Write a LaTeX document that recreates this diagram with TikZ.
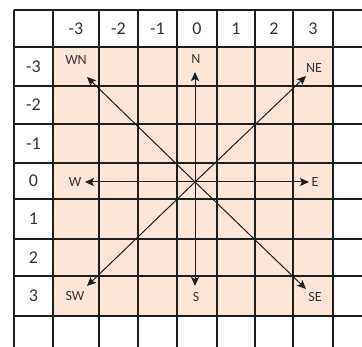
\documentclass[tikz,border=0pt]{standalone}
\usepackage{fontspec}
\setmainfont{Carlito}
\usetikzlibrary{arrows.meta,positioning}
\definecolor{cellfill}{HTML}{FCE4D6}
\definecolor{gridline}{HTML}{1E1E1E}
\definecolor{labeltext}{HTML}{333333}

\begin{document}
\begin{tikzpicture}[
  x=1pt, y=-1pt,
  grid/.style={draw=gridline, line width=1.2pt},
  head/.style={font=\fontsize{18}{20}\selectfont, text=labeltext, inner sep=0pt},
  dirlabel/.style={font=\fontsize{14}{16}\selectfont, text=labeltext, inner sep=0pt},
  arrow/.style={-{Stealth[length=9pt,width=8pt,inset=2pt]}, line width=1pt, draw=gridline}
]
\useasboundingbox (0,0) rectangle (362,347);

\fill[cellfill] (53,47) rectangle (333,316);
\foreach \x in {14,53,99,138,177,217,255,293,333}
  \draw[grid] (\x,10) -- (\x,347);
\foreach \y in {10,47,86,124,163,199,239,276,316}
  \draw[grid] (14,\y) -- (362,\y);

\foreach \x/\lab in {76/-3,118.5/-2,157.5/-1,197/0,236/1,274/2,313/3}
  \node[head] (col\lab) at (\x,28.5) {\lab};
\foreach \y/\lab in {66.5/-3,105/-2,143.5/-1,181/0,219/1,257.5/2,296/3}
  \node[head] (row\lab) at (33.5,\y) {\lab};

\coordinate (o) at (195,182);

\coordinate (tipN) at (195,72);
\coordinate (tipS) at (195,286);
\coordinate (tipW) at (85,182);
\coordinate (tipE) at (309,182);
\coordinate (tipWN) at (87,77);
\coordinate (tipNE) at (306,76);
\coordinate (tipSW) at (87,286);
\coordinate (tipSE) at (306,289);

\node[dirlabel] (N) at (196,59) {N};
\node[dirlabel] (S) at (196,297) {S};
\node[dirlabel] (W) at (75,182) {W};
\node[dirlabel] (E) at (315,182) {E};
\node[dirlabel] (WN) at (76,60) {WN};
\node[dirlabel] (NE) at (314,68) {NE};
\node[dirlabel] (SW) at (75,296) {SW};
\node[dirlabel] (SE) at (315,297) {SE};

\draw[arrow] (o) -- (tipN);
\draw[arrow] (o) -- (tipS);
\draw[arrow] (o) -- (tipW);
\draw[arrow] (o) -- (tipE);
\draw[arrow] (o) -- (tipWN);
\draw[arrow] (o) -- (tipNE);
\draw[arrow] (o) -- (tipSW);
\draw[arrow] (o) -- (tipSE);

\end{tikzpicture}
\end{document}
